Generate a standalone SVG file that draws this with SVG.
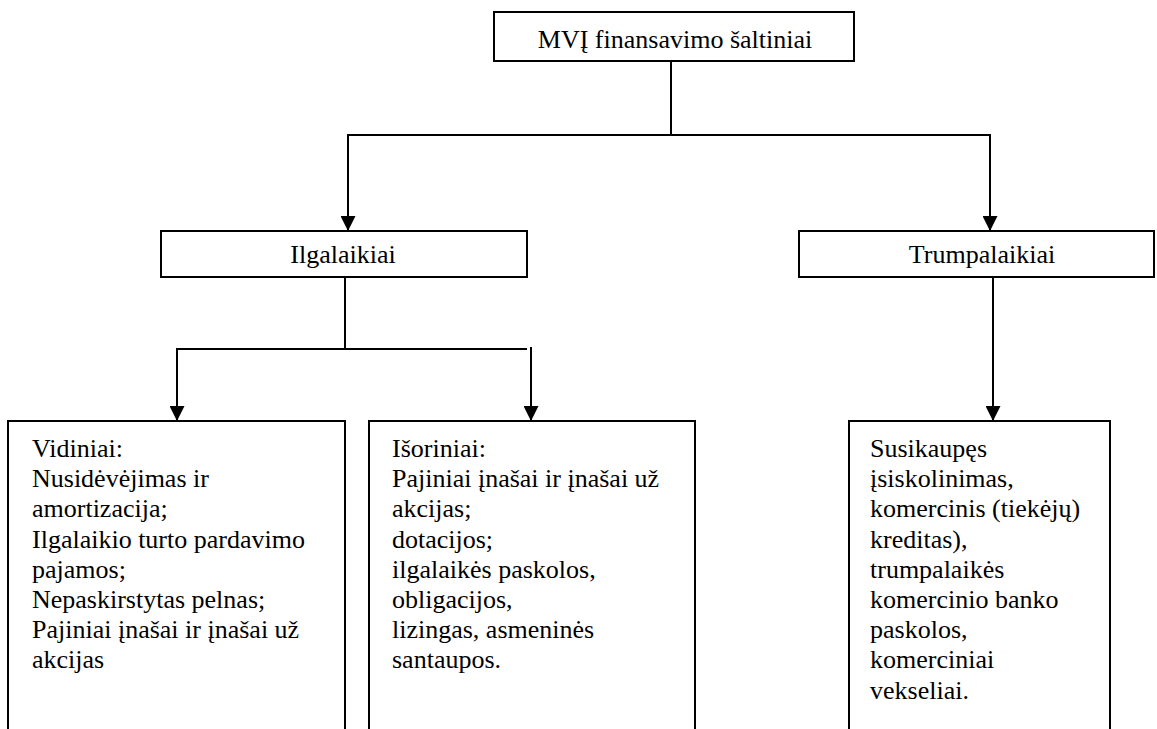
<svg xmlns="http://www.w3.org/2000/svg" width="1157" height="729" viewBox="0 0 1157 729">
  <style>
    .box { fill: #ffffff; stroke: #000000; stroke-width: 2; }
    .lbl { font-family: 'Liberation Serif', Tinos, 'Times New Roman', Times, 'DejaVu Serif', 'Noto Serif', serif; font-size: 26px; fill: #000000; }
    .ctr { text-anchor: middle; }
    .conn { fill: none; stroke: #000000; stroke-width: 2; }
  </style>
  <defs>
    <marker id="arrow" markerUnits="userSpaceOnUse" markerWidth="15" markerHeight="15" refX="15" refY="7.5" orient="auto">
      <path d="M0,0 L15,7.5 L0,15 z" fill="#000000"/>
    </marker>
  </defs>
  <rect width="1157" height="729" fill="#ffffff"/>

  <g id="connectors">
    <line class="conn" x1="671" y1="61" x2="671" y2="135"/>
    <line class="conn" x1="347" y1="135" x2="991" y2="135"/>
    <line class="conn" x1="348" y1="135" x2="348" y2="231" marker-end="url(#arrow)"/>
    <line class="conn" x1="990" y1="135" x2="990" y2="231" marker-end="url(#arrow)"/>
    <line class="conn" x1="345" y1="277" x2="345" y2="349"/>
    <line class="conn" x1="176" y1="349" x2="527" y2="349"/>
    <line class="conn" x1="177" y1="349" x2="177" y2="421" marker-end="url(#arrow)"/>
    <line class="conn" x1="531" y1="347" x2="531" y2="421" marker-end="url(#arrow)"/>
    <line class="conn" x1="993" y1="277" x2="993" y2="421" marker-end="url(#arrow)"/>
  </g>

  <g id="node-root">
    <rect class="box" x="494" y="12" width="360" height="49"/>
    <text class="lbl ctr" x="675" y="48" font-family="Liberation Serif, serif">MVĮ finansavimo šaltiniai</text>
  </g>

  <g id="node-ilgalaikiai">
    <rect class="box" x="161" y="231" width="366" height="46"/>
    <text class="lbl ctr" x="343" y="263">Ilgalaikiai</text>
  </g>

  <g id="node-trumpalaikiai">
    <rect class="box" x="799" y="231" width="355" height="46"/>
    <text class="lbl ctr" x="982" y="263">Trumpalaikiai</text>
  </g>

  <g id="node-vidiniai">
    <rect class="box" x="8" y="421" width="337" height="330"/>
    <text class="lbl" x="32" y="457">
      <tspan x="32" dy="0">Vidiniai:</tspan>
      <tspan x="32" dy="30.2">Nusidėvėjimas ir</tspan>
      <tspan x="32" dy="30.2">amortizacija;</tspan>
      <tspan x="32" dy="30.2">Ilgalaikio turto pardavimo</tspan>
      <tspan x="32" dy="30.2">pajamos;</tspan>
      <tspan x="32" dy="30.2">Nepaskirstytas pelnas;</tspan>
      <tspan x="32" dy="30.2">Pajiniai įnašai ir įnašai už</tspan>
      <tspan x="32" dy="30.2">akcijas</tspan>
    </text>
  </g>

  <g id="node-isoriniai">
    <rect class="box" x="369" y="421" width="326" height="330"/>
    <text class="lbl" x="392" y="457">
      <tspan x="392" dy="0">Išoriniai:</tspan>
      <tspan x="392" dy="30.2">Pajiniai įnašai ir įnašai už</tspan>
      <tspan x="392" dy="30.2">akcijas;</tspan>
      <tspan x="392" dy="30.2">dotacijos;</tspan>
      <tspan x="392" dy="30.2">ilgalaikės paskolos,</tspan>
      <tspan x="392" dy="30.2">obligacijos,</tspan>
      <tspan x="392" dy="30.2">lizingas, asmeninės</tspan>
      <tspan x="392" dy="30.2">santaupos.</tspan>
    </text>
  </g>

  <g id="node-trumpalaikiai-saltiniai">
    <rect class="box" x="849" y="421" width="261" height="330"/>
    <text class="lbl" x="870" y="457">
      <tspan x="870" dy="0">Susikaupęs</tspan>
      <tspan x="870" dy="30.2">įsiskolinimas,</tspan>
      <tspan x="870" dy="30.2">komercinis (tiekėjų)</tspan>
      <tspan x="870" dy="30.2">kreditas),</tspan>
      <tspan x="870" dy="30.2">trumpalaikės</tspan>
      <tspan x="870" dy="30.2">komercinio banko</tspan>
      <tspan x="870" dy="30.2">paskolos,</tspan>
      <tspan x="870" dy="30.2">komerciniai</tspan>
      <tspan x="870" dy="30.2">vekseliai.</tspan>
    </text>
  </g>
</svg>
